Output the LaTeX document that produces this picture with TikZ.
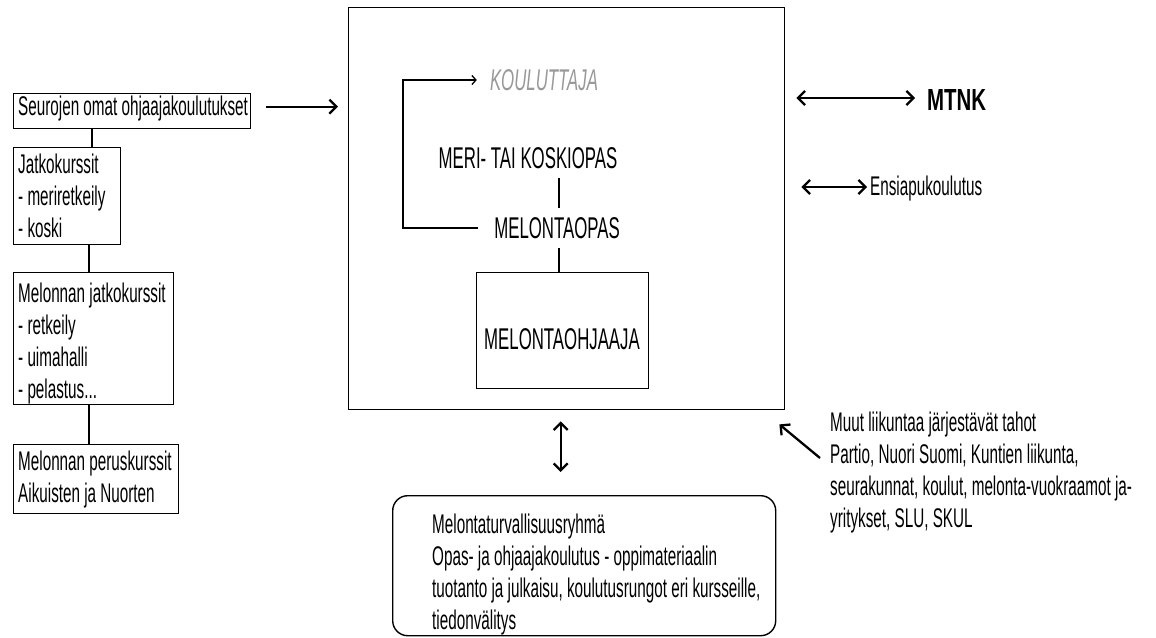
\documentclass[tikz,border=0pt]{standalone}
\usepackage{fontspec}
\setmainfont{Liberation Sans}[FakeStretch=0.565]
\newfontfamily\capsfont{Liberation Sans}[FakeStretch=0.56]
\newfontfamily\mtnkfont{Liberation Sans}[FakeStretch=0.67]
\usetikzlibrary{arrows.meta,calc}
\begin{document}
\begin{tikzpicture}[x=1pt,y=-1pt,
  box/.style={draw, line width=1.4pt, anchor=north west, inner sep=0pt},
  txt/.style={anchor=north west, inner sep=0pt, align=left, font=\fontsize{27}{32}\selectfont},
  capstxt/.style={font=\capsfont\fontsize{30}{36}\selectfont, text height=21.5pt, text depth=0pt},
  conn/.style={line width=1.3pt},
  arr/.style={line width=2.3pt, -{Straight Barb[length=7pt,width=14pt]}},
  darr/.style={line width=2.3pt, {Straight Barb[length=7pt,width=14pt]}-{Straight Barb[length=7pt,width=14pt]}}]
\useasboundingbox (0,0) rectangle (1156,637);

% central box
\node[box, minimum width=436pt, minimum height=402pt] (main) at (348,7) {};
\node[box, minimum width=172pt, minimum height=116pt] (ohbox) at (476,272) {};
\node[capstxt] (ohtext) at (562,339) {MELONTAOHJAAJA};
\node[capstxt, inner xsep=16pt, inner ysep=9pt] (mo) at (557,228) {MELONTAOPAS};
\node[capstxt, inner ysep=9pt] (mk) at (528,158) {MERI- TAI KOSKIOPAS};
\node[capstxt, font=\capsfont\itshape\fontsize{30}{36}\selectfont, text=gray!80, inner xsep=13pt] (ko) at (544,80) {KOULUTTAJA};
\coordinate (vx) at (559,0);
\draw[conn] (mk.south -| vx) -- (mo.north -| vx);
\draw[conn] (mo.south -| vx) -- (ohbox.north -| vx);
\draw[conn, -{Straight Barb[length=4pt,width=9pt]}] (mo.west) -- ++(-75,0) |- (ko.west);

% left column
\node[box, minimum width=237pt, minimum height=35pt] (b1) at (13,93) {};
\node[txt] (t1) at (18,95.5) {Seurojen omat ohjaajakoulutukset};
\node[box, minimum width=107pt, minimum height=97pt] (b2) at (13,147) {};
\node[txt] (t2) at (18,153.5) {Jatkokurssit\\- meriretkeily\\- koski};
\node[box, minimum width=160pt, minimum height=132pt] (b3) at (13,272) {};
\node[txt] (t3) at (18,282.5) {Melonnan jatkokurssit\\- retkeily\\- uimahalli\\- pelastus...};
\node[box, minimum width=165pt, minimum height=69pt] (b4) at (13,444) {};
\node[txt] (t4) at (18,450.5) {Melonnan peruskurssit\\Aikuisten ja Nuorten};
\coordinate (lx1) at (92,0);
\coordinate (lx2) at (89,0);
\draw[conn] (b1.south -| lx1) -- (b2.north -| lx1);
\draw[conn] (b2.south -| lx2) -- (b3.north -| lx2);
\draw[conn] (b3.south -| lx2) -- (b4.north -| lx2);
\coordinate (a1s) at ($(b1.east)+(15,-4.5)$);
\draw[arr] (a1s) -- ($(main.west |- a1s)+(-10,0)$);

% right side
\node[font=\mtnkfont\bfseries\fontsize{30.5}{36}\selectfont, anchor=west, inner xsep=12pt, text height=22pt, text depth=0pt] (mtnk) at (915,99) {MTNK};
\draw[darr] ($(main.east |- mtnk)+(11,-1)$) -- ($(mtnk.west)+(0,-1)$);
\node[font=\fontsize{27}{32}\selectfont, anchor=west, inner xsep=3pt, text height=19pt, text depth=0pt] (ens) at (867,186) {Ensiapukoulutus};
\draw[darr] ($(main.east |- ens)+(16,1)$) -- ($(ens.west)+(0,1)$);
\node[txt] (rt) at (830,411.5) {Muut liikuntaa järjestävät tahot\\Partio, Nuori Suomi, Kuntien liikunta,\\seurakunnat, koulut, melonta-vuokraamot ja-\\yritykset, SLU, SKUL};
\draw[arr] ($(rt.north west)+(-10,46.5)$) -- ($(main.south east)+(-6,14)$);

% bottom
\node[draw, line width=1.4pt, rounded corners=15pt, anchor=north west, minimum width=383pt, minimum height=140pt, inner sep=0pt] (mt) at (392,495) {};
\node[txt] (mttext) at (432,513.5) {Melontaturvallisuusryhmä\\Opas- ja ohjaajakoulutus - oppimateriaalin\\tuotanto ja julkaisu, koulutusrungot eri kursseille,\\tiedonvälitys};
\draw[darr] ($(main.south)+(-6,11)$) -- ($(mt.north)+(-23.5,-23)$);
\end{tikzpicture}
\end{document}
